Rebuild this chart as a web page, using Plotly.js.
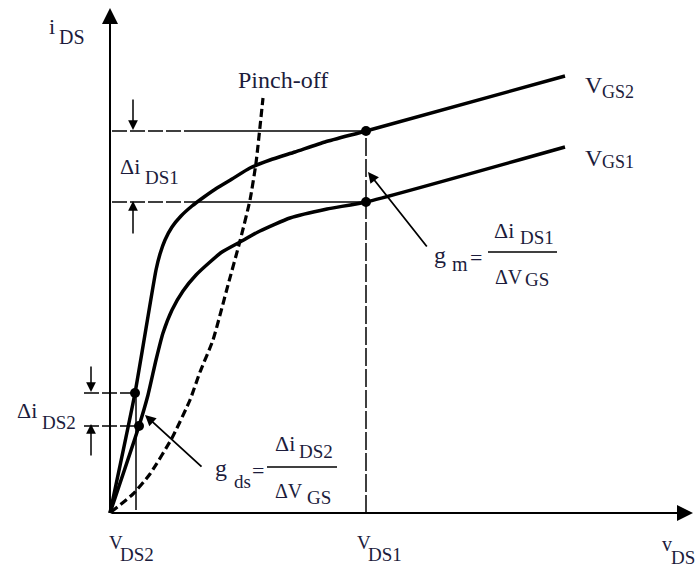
<!DOCTYPE html>
<html>
<head>
<meta charset="utf-8">
<script src="https://cdn.plot.ly/plotly-3.0.1.min.js"></script>
<style>html,body{margin:0;padding:0;background:#fff;}#chart{width:697px;height:567px;}</style>
</head>
<body>
<div id="chart"></div>
<script>
// ---- Data (arbitrary units: v_DS to the right, i_DS upward) ----
const vdsVGS2 = [0, 25, 46, 50, 55, 62, 71, 82, 94, 107, 122, 140, 160, 185, 215, 256, 455];
const idsVGS2 = [0, 120, 243, 259, 273, 286, 297, 307, 316, 325, 334, 345, 353, 361, 371, 382, 437];
const vdsVGS1 = [0, 29, 38, 46, 53, 62, 73, 86, 100, 112, 130, 150, 180, 217, 256, 455];
const idsVGS1 = [0, 87, 118, 153, 180, 203, 222, 238, 251, 261, 271, 282, 295, 304, 311, 366];
const vdsPinch = [1, 23, 40, 62, 80, 90, 103, 118, 130, 140, 146, 153];
const idsPinch = [1, 19, 39, 75, 113, 141, 173, 228, 272, 313, 350, 415];

const VDS1 = 256;             // operating point in saturation
const idsAtVDS1 = [382, 311]; // VGS2, VGS1
const VDS2 = 26;              // operating point in linear region
const vdsAtVDS2 = [25, 29];
const idsAtVDS2 = [120, 87];
const xMax = 583, yMax = 505;

const curveLabels = ['V', 'GS2', 'V', 'GS1'];
const axisLabels = ['i', 'DS', 'v', 'DS', 'V', 'DS2', 'V', 'DS1'];

// ---- Style ----
const ink = '#1c1c3c';
const serif = 'Liberation Serif, Times New Roman, serif';

const traces = [];
function line(x, y, w, dash, shape) {
  traces.push({x: x, y: y, mode: 'lines', hoverinfo: 'skip',
    line: {color: '#000', width: w, dash: dash || 'solid', shape: shape || 'linear', smoothing: 0.5}});
}
line(vdsVGS2, idsVGS2, 3.5, 'solid', 'spline');
line(vdsVGS1, idsVGS1, 3.5, 'solid', 'spline');
line(vdsPinch, idsPinch, 3.2, '8px,4px', 'spline');
// reference lines at VDS1
line([2, 75], [idsAtVDS1[0], idsAtVDS1[0]], 1.5, '15px,3px');
line([75, VDS1], [idsAtVDS1[0], idsAtVDS1[0]], 1.5);
line([2, 75], [idsAtVDS1[1], idsAtVDS1[1]], 1.5, '15px,3px');
line([75, VDS1], [idsAtVDS1[1], idsAtVDS1[1]], 1.5);
line([VDS1, VDS1], [0, idsAtVDS1[0]], 1.5, '18px,3px');
// reference lines at VDS2
line([-26, vdsAtVDS2[0]], [idsAtVDS2[0], idsAtVDS2[0]], 1.5, '15px,3px');
line([-26, vdsAtVDS2[1]], [idsAtVDS2[1], idsAtVDS2[1]], 1.5, '15px,3px');
line([VDS2, VDS2], [3, idsAtVDS2[0]], 1.5);
// fraction bars
line([378, 447], [261, 261], 1.5);
line([157, 227], [46, 46], 1.5);
// operating-point dots
traces.push({x: [VDS1, VDS1].concat(vdsAtVDS2), y: idsAtVDS1.concat(idsAtVDS2), mode: 'markers',
  hoverinfo: 'skip', marker: {color: '#000', size: 10}});

const ann = [];
function arrow(x, y, ax, ay, w, size) {
  ann.push({x: x, y: y, ax: ax, ay: ay, xref: 'x', yref: 'y', axref: 'x', ayref: 'y', text: '',
    showarrow: true, arrowhead: 2, arrowwidth: w, arrowsize: size, arrowcolor: '#000', standoff: 0, startstandoff: 0});
}
arrow(0, yMax, 0, 0, 2, 1.6);     // i_DS axis
arrow(xMax, 0, 0, 0, 2, 1.6);     // v_DS axis
arrow(23, 383, 23, 415, 1.5, 1.3);
arrow(23, 312, 23, 278, 1.5, 1.3);
arrow(-19, 121, -19, 148, 1.5, 1.3);
arrow(-19, 89, -19, 56, 1.5, 1.3);
arrow(258, 341, 318, 265, 1.8, 1.2); // g_m pointer
arrow(35, 98, 93, 45, 1.8, 1.2);     // g_ds pointer

function txt(s, x, y, size, anchor) {
  ann.push({x: x, y: y, xref: 'x', yref: 'y', text: s, showarrow: false,
    xanchor: anchor || 'left', yanchor: 'middle', font: {family: serif, size: size, color: ink}});
}
// axis labels
txt(axisLabels[0], -63, 487, 22); txt(axisLabels[1], -53, 476, 20);
txt(axisLabels[2], 550, -31, 20); txt(axisLabels[3], 559, -44, 19);
txt(axisLabels[4], -3, -29, 19); txt(axisLabels[5], 8, -41, 19);
txt(axisLabels[6], 245, -29, 19); txt(axisLabels[7], 256, -41, 19);
// curve labels
txt(curveLabels[0], 473, 428, 24); txt(curveLabels[1], 490, 421, 18);
txt(curveLabels[2], 473, 355, 24); txt(curveLabels[3], 490, 351, 18);
txt('Pinch-off', 173, 433, 24, 'center');
// delta labels
txt('Δi', 8, 347, 22); txt('DS1', 33, 336, 19);
txt('Δi', -95, 103, 22); txt('DS2', -70, 91, 19);
// g_m formula
txt('g', 322, 258, 24); txt('m', 340, 249, 20); txt('=', 358, 256, 22);
txt('Δi', 382, 283, 22); txt('DS1', 408, 276, 19);
txt('ΔV', 383, 236, 20); txt('GS', 413, 234, 19);
// g_ds formula
txt('g', 103, 45, 24); txt('ds', 122, 32, 19); txt('=', 140, 43, 22);
txt('Δi', 163, 70, 22); txt('DS2', 187, 62, 19);
txt('ΔV', 163, 22, 20); txt('GS', 195, 16, 19);

const layout = {
  width: 697, height: 567,
  margin: {l: 0, r: 0, t: 0, b: 0},
  paper_bgcolor: '#fff', plot_bgcolor: '#fff',
  showlegend: false,
  xaxis: {range: [-110, 587], visible: false, fixedrange: true},
  yaxis: {range: [-54, 513], visible: false, fixedrange: true},
  annotations: ann
};
Plotly.newPlot('chart', traces, layout, {staticPlot: true});
</script>
</body>
</html>
